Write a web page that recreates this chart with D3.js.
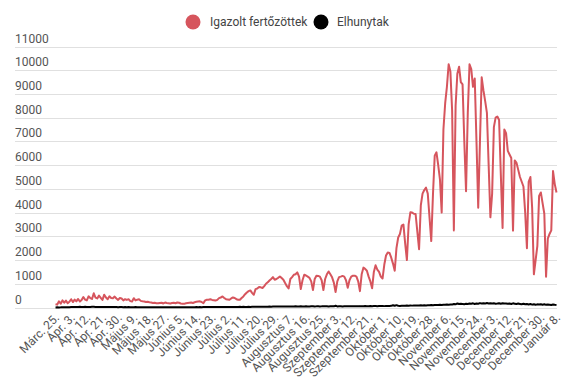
<!DOCTYPE html>
<html>
<head>
<meta charset="utf-8">
<script src="https://cdn.jsdelivr.net/npm/d3@7"></script>
<style>
  html, body { margin: 0; padding: 0; background: #fff; }
  svg { display: block; font-family: Roboto, "Noto Sans", sans-serif; }
</style>
</head>
<body>
<svg id="chart" width="577" height="385"></svg>
<script>
const seriesNames = ["Igazolt fertőzöttek", "Elhunytak"];
const seriesColors = ["#d6555d", "#000000"];

const tickLabels = ["Márc. 25.","Ápr. 3.","Ápr. 12.","Ápr. 21.","Ápr. 30.","Május 9.","Május 18.","Május 27.","Június 5.","Június 14.","Június 23.","Július 2.","Július 11.","Július 20.","Július 29.","Augusztus 7.","Augusztus 16.","Augusztus 25.","Szeptember 3.","Szeptember 12.","Szeptember 21.","Október 1.","Október 10.","Október 19.","Október 28.","November 6.","November 15.","November 24.","December 3.","December 12.","December 21.","December 30.","Január 8."];
const tickStep = 9;

const yTicks = [0,1000,2000,3000,4000,5000,6000,7000,8000,9000,10000,11000];

const cases = [
  140, 120, 260, 160, 300, 200, 290, 180, 240, 350,
  230, 330, 260, 360, 250, 320, 440, 330, 300, 470,
  400, 360, 600, 420, 380, 500, 410, 320, 540, 420,
  350, 470, 400, 390, 460, 380, 320, 400, 380, 300,
  350, 320, 350, 270, 250, 390, 300, 330, 350, 280,
  260, 250, 230, 240, 220, 210, 190, 200, 180, 175,
  190, 200, 170, 210, 190, 180, 170, 190, 200, 180,
  210, 200, 170, 160, 155, 180, 190, 200, 210, 190,
  220, 240, 250, 260, 230, 180, 300, 325, 330, 350,
  320, 310, 296, 320, 395, 420, 465, 400, 350, 340,
  325, 380, 423, 400, 350, 330, 325, 400, 465, 560,
  635, 690, 720, 620, 535, 775, 800, 860, 850, 820,
  900, 1000, 1060, 1140, 1200, 1280, 1170, 1200, 1250, 1310,
  1240, 1170, 1030, 900, 800, 1200, 1280, 1380, 1400, 1480,
  1300, 775, 1150, 1380, 1350, 1300, 1250, 1100, 733, 1200,
  1340, 1330, 1300, 1150, 733, 1200, 1400, 1520, 1400, 1270,
  1050, 650, 1100, 1280, 1300, 1330, 1300, 1150, 830, 1150,
  1300, 1340, 1340, 1300, 1100, 690, 1400, 1680, 1630, 1550,
  1300, 1100, 810, 1500, 1780, 1600, 1500, 1300, 1220, 1800,
  2190, 2320, 2300, 2100, 1850, 1550, 2500, 2950, 3100, 3450,
  3500, 2700, 2000, 3500, 4010, 4000, 3950, 3940, 3200, 2460,
  4300, 4800, 4950, 5050, 4800, 3800, 2800, 4780, 6400, 6540,
  6000, 5400, 4000, 7500, 8600, 9300, 10250, 9950, 8300, 3250,
  8500, 9850, 10150, 9500, 9400, 7000, 4900, 8200, 10250, 10050,
  9300, 9650, 7000, 4200, 7000, 9700, 9150, 8700, 8200, 6000,
  3800, 4800, 7600, 8000, 8050, 7900, 5600, 3350, 7500, 7350,
  6600, 6450, 6300, 3240, 6200, 6100, 5800, 5500, 5300, 5100,
  4000, 2500, 5300, 5500, 4200, 1400, 2000, 2600, 4700, 4850,
  4400, 3950, 1300, 2900, 3100, 3250, 5750, 5200, 4850
];

const deaths = [
  5, 7, 4, 6, 10, 9, 14, 12, 15, 20,
  16, 22, 18, 25, 30, 21, 24, 28, 19, 26,
  22, 27, 30, 24, 20, 18, 23, 21, 17, 25,
  22, 19, 20, 16, 18, 21, 15, 17, 19, 14,
  16, 13, 17, 15, 12, 14, 18, 11, 13, 12,
  10, 14, 12, 9, 11, 13, 8, 10, 12, 9,
  11, 10, 8, 12, 9, 7, 13, 10, 11, 9,
  8, 12, 10, 9, 14, 11, 13, 10, 15, 12,
  14, 16, 13, 18, 15, 17, 19, 16, 20, 18,
  17, 21, 19, 22, 18, 24, 20, 23, 21, 25,
  22, 19, 26, 23, 25, 21, 27, 24, 28, 22,
  26, 29, 25, 30, 27, 31, 28, 33, 30, 35,
  32, 36, 34, 38, 35, 40, 37, 42, 39, 44,
  41, 45, 38, 43, 47, 40, 46, 44, 48, 42,
  45, 50, 43, 47, 52, 46, 44, 49, 51, 45,
  48, 53, 47, 50, 55, 49, 52, 46, 51, 54,
  48, 75, 45, 50, 53, 47, 52, 56, 49, 54,
  51, 57, 50, 55, 53, 58, 52, 56, 60, 54,
  57, 61, 55, 59, 63, 57, 62, 60, 64, 58,
  66, 61, 68, 70, 95, 72, 100, 75, 68, 73,
  78, 71, 80, 76, 83, 79, 86, 81, 88, 84,
  90, 86, 94, 89, 98, 92, 101, 96, 105, 110,
  104, 115, 108, 120, 112, 125, 118, 130, 122, 150,
  135, 170, 145, 160, 150, 140, 155, 148, 165, 158,
  175, 150, 168, 160, 185, 170, 178, 165, 190, 172,
  180, 168, 175, 160, 170, 182, 158, 176, 165, 172,
  155, 168, 150, 175, 160, 145, 165, 152, 140, 158,
  135, 148, 130, 145, 120, 138, 115, 132, 125, 140,
  118, 135, 112, 128, 120, 105, 125, 115, 110
];

const svg = d3.select("#chart");
const plot = { left: 55.5, right: 556.5, top: 46.5, bottom: 307.5 };

const x = d3.scaleLinear().domain([0, cases.length - 1]).range([plot.left, plot.right]);
const y = d3.scaleLinear().domain([0, 11000]).range([plot.bottom, plot.top]);

// gridlines + y labels
const yg = svg.append("g");
yg.selectAll("line").data(yTicks).join("line")
  .attr("x1", 15).attr("x2", 557)
  .attr("y1", d => Math.round(y(d)) + 0.5).attr("y2", d => Math.round(y(d)) + 0.5)
  .attr("stroke", "#e0e0e0").attr("stroke-width", 1);
yg.selectAll("text").data(yTicks).join("text")
  .attr("x", 15).attr("y", d => y(d) - 4)
  .attr("font-size", 12).attr("fill", "#555")
  .text(d => d);

// x axis labels
const xTickIdx = tickLabels.map((_, i) => i * tickStep);
const xAxis = d3.axisBottom(x).tickValues(xTickIdx)
  .tickFormat((d, i) => tickLabels[i]).tickSize(0).tickPadding(0);
const xg = svg.append("g").attr("transform", `translate(0,${plot.bottom})`).call(xAxis);
xg.select(".domain").remove();
xg.selectAll("text")
  .attr("font-family", "Roboto, sans-serif")
  .attr("font-size", 12).attr("fill", "#555")
  .attr("text-anchor", "end")
  .attr("dy", null).attr("y", 0)
  .attr("transform", "translate(4,11) rotate(-45)");

// lines
const line = d3.line().x((d, i) => x(i)).y(d => y(d));
svg.append("path").datum(cases)
  .attr("fill", "none").attr("stroke", seriesColors[0]).attr("stroke-width", 2)
  .attr("stroke-linejoin", "round").attr("d", line);
svg.append("path").datum(deaths)
  .attr("fill", "none").attr("stroke", seriesColors[1]).attr("stroke-width", 2)
  .attr("stroke-linejoin", "round").attr("d", line);

// legend
const legendItems = [
  { cx: 193, tx: 210 },
  { cx: 321, tx: 337 }
];
const lg = svg.append("g");
seriesNames.forEach((name, i) => {
  lg.append("circle").attr("cx", legendItems[i].cx).attr("cy", 22).attr("r", 7.5)
    .attr("fill", seriesColors[i]);
  lg.append("text").attr("x", legendItems[i].tx).attr("y", 22).attr("dy", "0.35em")
    .attr("font-size", 12).attr("fill", "#444").text(name);
});
</script>
</body>
</html>
